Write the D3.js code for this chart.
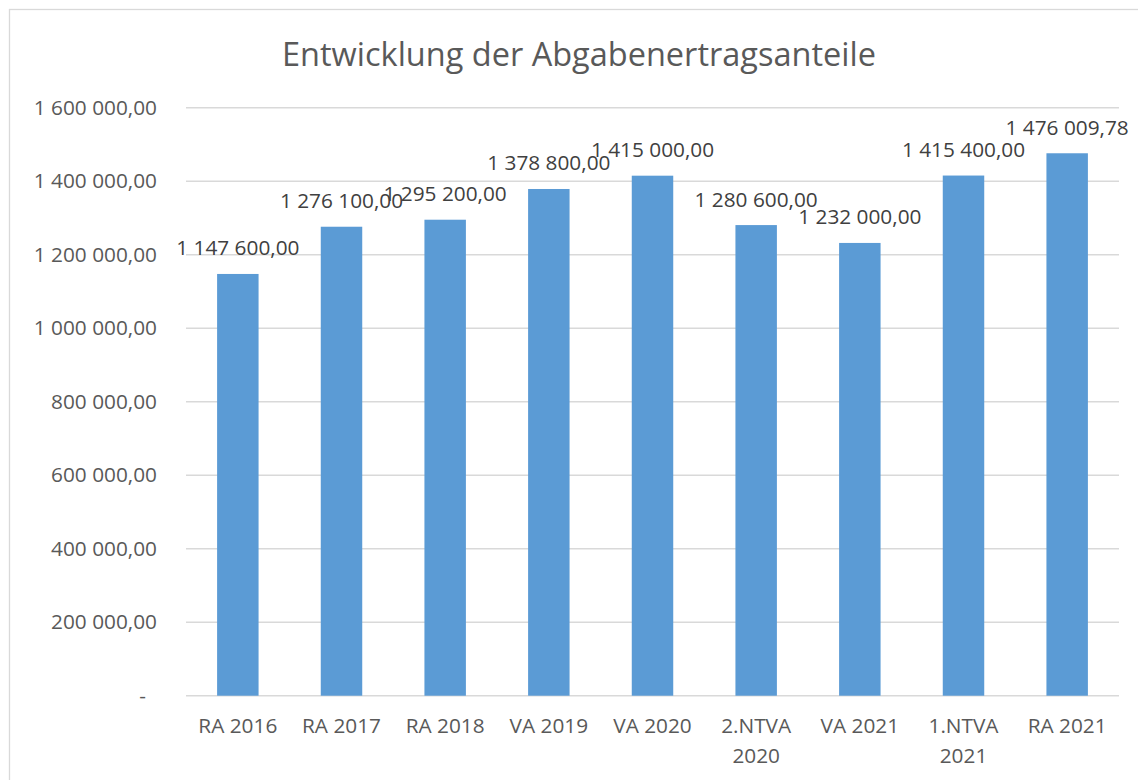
<!DOCTYPE html>
<html>
<head>
<meta charset="utf-8">
<script src="https://cdn.jsdelivr.net/npm/d3@7"></script>
<style>
  body { margin: 0; background: #fff; }
  svg { display: block; font-family: 'Open Sans', sans-serif; }
</style>
</head>
<body>
<div id="wrapper"></div>
<script>
const categories = ['RA 2016', 'RA 2017', 'RA 2018', 'VA 2019', 'VA 2020', '2.NTVA 2020', 'VA 2021', '1.NTVA 2021', 'RA 2021']
const values = [1147600, 1276100, 1295200, 1378800, 1415000, 1280600, 1232000, 1415400, 1476009.78]
const yTicks = [0, 200000, 400000, 600000, 800000, 1000000, 1200000, 1400000, 1600000]
const title = 'Entwicklung der Abgabenertragsanteile'

const dms = {
    width: 1138,
    height: 780,
    margin: { top: 107.7, right: 19, bottom: 84.3, left: 186 }
}
dms.chartWidth = dms.width - dms.margin.left - dms.margin.right
dms.chartHeight = dms.height - dms.margin.top - dms.margin.bottom

const fontSize = 20.8
const de = d3.formatLocale({ decimal: ',', thousands: ' ', grouping: [3], currency: ['', ''] })
const fmt = de.format(',.2f')

const wrapper = d3.select('#wrapper')
    .append('svg')
    .attr('width', dms.width)
    .attr('height', dms.height)

// chart border (only top and left are inside the picture)
wrapper.append('rect')
    .attr('x', 9.5)
    .attr('y', 9.5)
    .attr('width', dms.width + 20)
    .attr('height', dms.height + 20)
    .attr('fill', 'none')
    .attr('stroke', '#d9d9d9')
    .attr('stroke-width', 1.3)

wrapper.append('text')
    .attr('x', 579)
    .attr('y', 66)
    .attr('text-anchor', 'middle')
    .attr('fill', '#595959')
    .style('font-size', '32.5px')
    .text(title)

const bounds = wrapper.append('g')
    .attr('transform', `translate(${dms.margin.left}, ${dms.margin.top})`)

const xScale = d3.scaleBand()
    .domain(categories)
    .range([0, dms.chartWidth])
    .paddingInner(0.6)
    .paddingOuter(0.3)

const yScale = d3.scaleLinear()
    .domain([0, 1600000])
    .range([dms.chartHeight, 0])

// gridlines
bounds.append('g')
    .selectAll('line')
    .data(yTicks)
    .join('line')
    .attr('x1', 0)
    .attr('x2', dms.chartWidth)
    .attr('y1', d => yScale(d))
    .attr('y2', d => yScale(d))
    .attr('stroke', '#d9d9d9')
    .attr('stroke-width', 1.5)

// y axis labels
const yAxis = bounds.append('g')
    .call(d3.axisLeft(yScale).tickValues(yTicks).tickSize(0).tickPadding(29)
        .tickFormat(d => d === 0 ? '-' : fmt(d)))
yAxis.select('.domain').remove()
yAxis.selectAll('text')
    .attr('fill', '#595959')
    .style('font-size', fontSize + 'px')
    .style('font-family', "'Open Sans', sans-serif")
    .attr('dx', d => d === 0 ? -11 : 0)

// bars
bounds.append('g')
    .selectAll('rect')
    .data(values)
    .join('rect')
    .attr('x', (d, i) => xScale(categories[i]))
    .attr('y', d => yScale(d))
    .attr('width', xScale.bandwidth())
    .attr('height', d => dms.chartHeight - yScale(d))
    .attr('fill', '#5b9bd5')

// data labels
bounds.append('g')
    .selectAll('text')
    .data(values)
    .join('text')
    .attr('x', (d, i) => xScale(categories[i]) + xScale.bandwidth() / 2)
    .attr('y', d => yScale(d) - 18.5)
    .attr('text-anchor', 'middle')
    .attr('fill', '#404040')
    .style('font-size', fontSize + 'px')
    .text(d => fmt(d))

// x axis labels (wrapped like the original when too wide)
const xLabels = bounds.append('g')
    .attr('transform', `translate(0, ${dms.chartHeight})`)
    .selectAll('text')
    .data(categories)
    .join('text')
    .attr('x', d => xScale(d) + xScale.bandwidth() / 2)
    .attr('y', 37.5)
    .attr('text-anchor', 'middle')
    .attr('fill', '#595959')
    .style('font-size', fontSize + 'px')
    .text(d => d)

xLabels.each(function (d) {
    const t = d3.select(this)
    if (this.getComputedTextLength() > xScale.step() * 0.95) {
        const words = d.split(' ')
        t.text(null)
        words.forEach((w, i) => {
            t.append('tspan')
                .attr('x', xScale(d) + xScale.bandwidth() / 2)
                .attr('dy', i === 0 ? 0 : 30)
                .text(w)
        })
    }
})
</script>
</body>
</html>
